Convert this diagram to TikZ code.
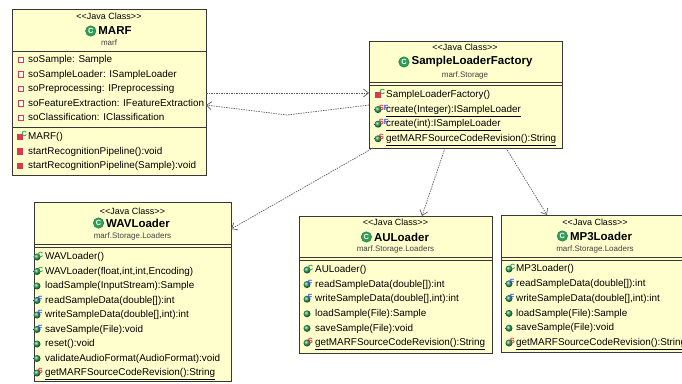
\documentclass[tikz,border=0pt]{standalone}
\usepackage{fontspec}
\setmainfont{Liberation Sans}
\usetikzlibrary{arrows.meta,positioning}

\definecolor{clsfill}{RGB}{255,255,206}
\definecolor{clsline}{RGB}{55,55,55}
\definecolor{icgreen}{RGB}{45,160,85}
\definecolor{icred}{RGB}{222,55,80}
\definecolor{icblue}{RGB}{55,85,225}
\definecolor{depgray}{RGB}{95,95,95}

\newcommand\markN{}
\newcommand\markC{\textcolor{icgreen}{C}}
\newcommand\markF{\textcolor{icblue}{F}}
\newcommand\markS{\textcolor{icred}{S}}
\newcommand\markSF{\textcolor{icred}{S}\textcolor{icblue}{F}}

\tikzset{
  cls/.style={draw=clsline, fill=clsfill, line width=0.9pt, inner sep=0pt, outer sep=0pt, anchor=north west},
  sepline/.style={draw=clsline, line width=0.8pt},
  stereo/.style={font=\fontsize{9}{10}\selectfont, inner sep=0pt},
  clsname/.style={font=\fontsize{11.5}{13}\selectfont\bfseries, inner sep=0pt},
  pkg/.style={font=\fontsize{8}{9}\selectfont, text=black!75, inner sep=0pt},
  member/.style={font=\fontsize{9.9}{12}\selectfont, inner sep=0pt, anchor=west, text height=7.5pt, text depth=2pt},
  cicon/.style={circle, fill=icgreen, draw=icgreen!70!black, inner sep=0pt, minimum size=10.5pt, text=white, font=\fontsize{7.5}{7.5}\selectfont\bfseries},
  pub/.style={circle, ball color=icgreen, inner sep=0pt, minimum size=7pt},
  priv/.style={rectangle, fill=icred, inner sep=0pt, minimum size=6.5pt},
  fld/.style={rectangle, draw=icred, fill=white, line width=1.3pt, inner sep=0pt, minimum size=5.5pt},
  supmark/.style={font=\fontsize{7.5}{8}\selectfont\bfseries, inner sep=0pt, anchor=south west, xshift=-2pt, yshift=-3.5pt},
  dep/.style={draw=depgray, line width=0.7pt, dash pattern=on 1.5pt off 1pt, -{Straight Barb[length=5pt,width=8pt]}},
}

\begin{document}
\begin{tikzpicture}[x=1pt,y=-1pt]
\useasboundingbox (0,0) rectangle (682,383);

% MARF
\node[cls, minimum width=194pt, minimum height=166pt] (marf) at (12,9) {};
\node[stereo] (marf-st) at (109,16) {<{}<Java Class>{}>};
\node[clsname] (marf-nm) at (115,31) {MARF};
\node[cicon, left=2pt of marf-nm] (marf-ic) {C};
\node[pkg] (marf-pk) at (109,43) {marf};
\draw[sepline] (marf.west |- 0,51) -- (marf.east |- 0,51);
\draw[sepline] (marf.west |- 0,127) -- (marf.east |- 0,127);
\foreach \ic/\txt [count=\i, evaluate=\i as \y using 60+(\i-1)*14.5] in
  {fld/{soSample: Sample}, fld/{soSampleLoader: ISampleLoader}, fld/{soPreprocessing: IPreprocessing},
   fld/{soFeatureExtraction: IFeatureExtraction}, fld/{soClassification: IClassification}}
{
  \node[\ic] (marf-fi\i) at (21,\y) {};
  \node[member] (marf-f\i) at (28,\y) {\txt};
}
\foreach \ic/\mk/\txt [count=\i, evaluate=\i as \y using 137+(\i-1)*14.5] in
  {priv/\markC/{MARF()}, priv/\markN/{startRecognitionPipeline():void},
   priv/\markN/{startRecognitionPipeline(Sample):void}}
{
  \node[\ic] (marf-mi\i) at (20,\y) {};
  \node[supmark] (marf-ms\i) at (marf-mi\i.north east) {\mk};
  \node[member] (marf-m\i) at (28,\y) {\txt};
}

% SampleLoaderFactory
\node[cls, minimum width=193pt, minimum height=107pt] (factory) at (369,41) {};
\node[stereo] (factory-st) at (465,47) {<{}<Java Class>{}>};
\node[clsname] (factory-nm) at (472,62) {SampleLoaderFactory};
\node[cicon, left=2pt of factory-nm] (factory-ic) {C};
\node[pkg] (factory-pk) at (465,75) {marf.Storage};
\draw[sepline] (factory.west |- 0,82) -- (factory.east |- 0,82);
\draw[sepline] (factory.west |- 0,85) -- (factory.east |- 0,85);
\foreach \ic/\mk/\txt [count=\i, evaluate=\i as \y using 95+(\i-1)*14.6] in
  {priv/\markC/{SampleLoaderFactory()}, pub/\markSF/{\underline{create(Integer):ISampleLoader}},
   pub/\markSF/{\underline{create(int):ISampleLoader}}, pub/\markS/{\underline{getMARFSourceCodeRevision():String}}}
{
  \node[\ic] (factory-mi\i) at (378,\y) {};
  \node[supmark] (factory-ms\i) at (factory-mi\i.north east) {\mk};
  \node[member] (factory-m\i) at (386,\y) {\txt};
}

% WAVLoader
\node[cls, minimum width=197pt, minimum height=179.5pt] (wav) at (34,202) {};
\node[stereo] (wav-st) at (132.5,211) {<{}<Java Class>{}>};
\node[clsname] (wav-nm) at (138,223) {WAVLoader};
\node[cicon, left=2pt of wav-nm] (wav-ic) {C};
\node[pkg] (wav-pk) at (132.5,236) {marf.Storage.Loaders};
\draw[sepline] (wav.west |- 0,244) -- (wav.east |- 0,244);
\draw[sepline] (wav.west |- 0,247) -- (wav.east |- 0,247);
\foreach \ic/\mk/\txt [count=\i, evaluate=\i as \y using 257+(\i-1)*14.5] in
  {pub/\markC/{WAVLoader()}, pub/\markC/{WAVLoader(float,int,int,Encoding)},
   pub/\markN/{loadSample(InputStream):Sample}, pub/\markF/{readSampleData(double[]):int},
   pub/\markF/{writeSampleData(double[],int):int}, pub/\markF/{saveSample(File):void},
   pub/\markN/{reset():void}, pub/\markN/{validateAudioFormat(AudioFormat):void},
   pub/\markS/{\underline{getMARFSourceCodeRevision():String}}}
{
  \node[\ic] (wav-mi\i) at (37,\y) {};
  \node[supmark] (wav-ms\i) at (wav-mi\i.north east) {\mk};
  \node[member] (wav-m\i) at (45,\y) {\txt};
}

% AULoader
\node[cls, minimum width=193pt, minimum height=137pt] (au) at (299,216) {};
\node[stereo] (au-st) at (395.5,222) {<{}<Java Class>{}>};
\node[clsname] (au-nm) at (401.5,237) {AULoader};
\node[cicon, left=2pt of au-nm] (au-ic) {C};
\node[pkg] (au-pk) at (395.5,249) {marf.Storage.Loaders};
\draw[sepline] (au.west |- 0,257) -- (au.east |- 0,257);
\draw[sepline] (au.west |- 0,260) -- (au.east |- 0,260);
\foreach \ic/\mk/\txt [count=\i, evaluate=\i as \y using 270+(\i-1)*14.6] in
  {pub/\markC/{AULoader()}, pub/\markF/{readSampleData(double[]):int},
   pub/\markF/{writeSampleData(double[],int):int}, pub/\markN/{loadSample(File):Sample},
   pub/\markN/{saveSample(File):void}, pub/\markS/{\underline{getMARFSourceCodeRevision():String}}}
{
  \node[\ic] (au-mi\i) at (307,\y) {};
  \node[supmark] (au-ms\i) at (au-mi\i.north east) {\mk};
  \node[member] (au-m\i) at (315,\y) {\txt};
}

% MP3Loader
\node[cls, minimum width=188pt, minimum height=137pt] (mp3) at (501,215) {};
\node[stereo] (mp3-st) at (595,222) {<{}<Java Class>{}>};
\node[clsname] (mp3-nm) at (601,236) {MP3Loader};
\node[cicon, left=2pt of mp3-nm] (mp3-ic) {C};
\node[pkg] (mp3-pk) at (595,249) {marf.Storage.Loaders};
\draw[sepline] (mp3.west |- 0,257) -- (mp3.east |- 0,257);
\draw[sepline] (mp3.west |- 0,260) -- (mp3.east |- 0,260);
\foreach \ic/\mk/\txt [count=\i, evaluate=\i as \y using 269+(\i-1)*14.8] in
  {pub/\markC/{MP3Loader()}, pub/\markF/{readSampleData(double[]):int},
   pub/\markF/{writeSampleData(double[],int):int}, pub/\markN/{loadSample(File):Sample},
   pub/\markN/{saveSample(File):void}, pub/\markS/{\underline{getMARFSourceCodeRevision():String}}}
{
  \node[\ic] (mp3-mi\i) at (509,\y) {};
  \node[supmark] (mp3-ms\i) at (mp3-mi\i.north east) {\mk};
  \node[member] (mp3-m\i) at (516,\y) {\txt};
}

% dependencies
\coordinate (bend) at (287,115);
\draw[dep] (marf.east |- 0,93) -- (factory.west |- 0,93);
\draw[dep] (factory.west |- 0,105) -- (bend) -- (marf.east |- 0,105);
\draw[dep] (373,0 |- factory.south) -- (wav.east |- 0,229);
\draw[dep] (445,0 |- factory.south) -- (422,0 |- au.north);
\draw[dep] (506,0 |- factory.south) -- (547,0 |- mp3.north);

\end{tikzpicture}
\end{document}
